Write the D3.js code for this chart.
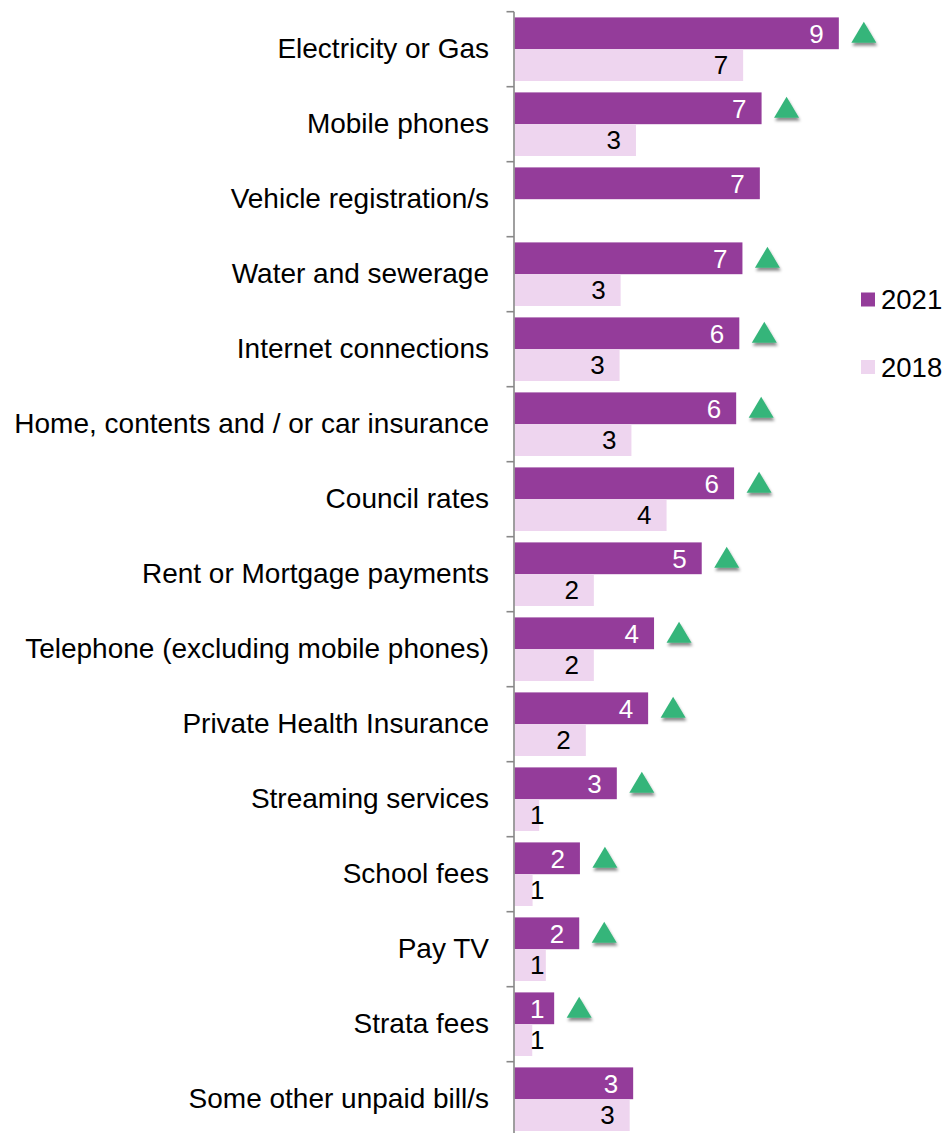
<!DOCTYPE html>
<html>
<head>
<meta charset="utf-8">
<script src="https://cdn.jsdelivr.net/npm/d3@7"></script>
<style>
  html, body { margin: 0; padding: 0; background: #fff; }
  svg { display: block; font-family: "Liberation Sans", Arial, sans-serif; }
</style>
</head>
<body>
<svg id="chart" width="948" height="1133"></svg>
<script>
// Unpaid bills, share of respondents (%)
const categories = [
  "Electricity or Gas",
  "Mobile phones",
  "Vehicle registration/s",
  "Water and sewerage",
  "Internet connections",
  "Home, contents and / or car insurance",
  "Council rates",
  "Rent or Mortgage payments",
  "Telephone (excluding mobile phones)",
  "Private Health Insurance",
  "Streaming services",
  "School fees",
  "Pay TV",
  "Strata fees",
  "Some other unpaid bill/s"
];
const values2021 = [9.32, 7.10, 7.05, 6.55, 6.46, 6.37, 6.31, 5.38, 4.01, 3.84, 2.94, 1.88, 1.86, 1.14, 3.41];
const values2018 = [6.57, 3.49, null, 3.05, 3.02, 3.36, 4.37, 2.28, 2.28, 2.05, 0.71, 0.52, 0.90, 0.51, 3.31];
// Significant increase since 2018
const significantRise = [true, true, false, true, true, true, true, true, true, true, true, true, true, true, false];
const seriesNames = ["2021", "2018"];
const seriesColors = ["#943c9a", "#eed5ef"];
const labelColors = ["#ffffff", "#000000"];

const svg = d3.select("#chart");
const x0 = 514.5;
const x = d3.scaleLinear().domain([0, 10]).range([x0, x0 + 348]);
const y = d3.scaleBand().domain(categories).range([11.7, 1136.7]).paddingInner(0).paddingOuter(0);
const sub = d3.scaleBand().domain(seriesNames).range([5.7, y.bandwidth() - 5.7]).padding(0);
const fmt = d3.format(".0f");

// drop shadow for the rise markers
const defs = svg.append("defs");
const f = defs.append("filter").attr("id", "shadow").attr("x", "-50%").attr("y", "-50%").attr("width", "200%").attr("height", "200%");
f.append("feDropShadow").attr("dx", 1).attr("dy", 3).attr("stdDeviation", 1.8)
  .attr("flood-color", "#000").attr("flood-opacity", 0.45);

const rows = categories.map((c, i) => ({
  cat: c,
  vals: [values2021[i], values2018[i]],
  rise: significantRise[i]
}));

const g = svg.append("g");

rows.forEach(r => {
  r.vals.forEach((v, si) => {
    if (v == null) return;
    const yy = y(r.cat) + sub(seriesNames[si]);
    g.append("rect")
      .attr("x", x(0))
      .attr("y", yy)
      .attr("width", x(v) - x(0))
      .attr("height", sub.bandwidth())
      .attr("fill", seriesColors[si]);
    const lx = Math.max(x(v) - 15, x(0) + 30);
    g.append("text")
      .attr("x", lx)
      .attr("y", yy + sub.bandwidth() / 2)
      .attr("dy", "0.36em")
      .attr("text-anchor", "end")
      .attr("font-size", 26)
      .attr("fill", labelColors[si])
      .text(fmt(v));
  });
  if (r.rise) {
    const cx = x(r.vals[0]) + 25;
    const cy = y(r.cat) + sub("2021") + sub.bandwidth() / 2;
    g.append("path")
      .attr("d", `M${cx},${cy - 11.5} L${cx + 12.5},${cy + 9.5} L${cx - 12.5},${cy + 9.5} Z`)
      .attr("fill", "#34b57a")
      .attr("filter", "url(#shadow)");
  }
});

// category axis
const axis = d3.axisLeft(y).tickSize(0).tickPadding(25);
const ag = svg.append("g").attr("transform", `translate(${x0 - 0.5},0)`).call(axis);
ag.select(".domain").remove();
ag.selectAll("text").attr("font-size", 28).attr("fill", "#000")
  .attr("font-family", "Liberation Sans, Arial, sans-serif").attr("dy", "0.32em");

svg.append("line")
  .attr("x1", x0 - 0.5).attr("x2", x0 - 0.5)
  .attr("y1", y.range()[0]).attr("y2", 1133)
  .attr("stroke", "#888").attr("stroke-width", 1.6);
const boundaries = categories.map(c => y(c));
svg.selectAll("line.tick-mark").data(boundaries).enter().append("line")
  .attr("class", "tick-mark")
  .attr("x1", x0 - 8).attr("x2", x0 - 0.5)
  .attr("y1", d => d).attr("y2", d => d)
  .attr("stroke", "#888").attr("stroke-width", 1.6);

// legend
const legend = svg.append("g").attr("transform", "translate(861,0)");
const legendY = [299.5, 367];
seriesNames.forEach((s, i) => {
  legend.append("rect").attr("x", 0).attr("y", legendY[i] - 7).attr("width", 14).attr("height", 14)
    .attr("fill", seriesColors[i]);
  legend.append("text").attr("x", 20).attr("y", legendY[i]).attr("dy", "0.36em")
    .attr("font-size", 27.5).attr("fill", "#000").text(s);
});
</script>
</body>
</html>
